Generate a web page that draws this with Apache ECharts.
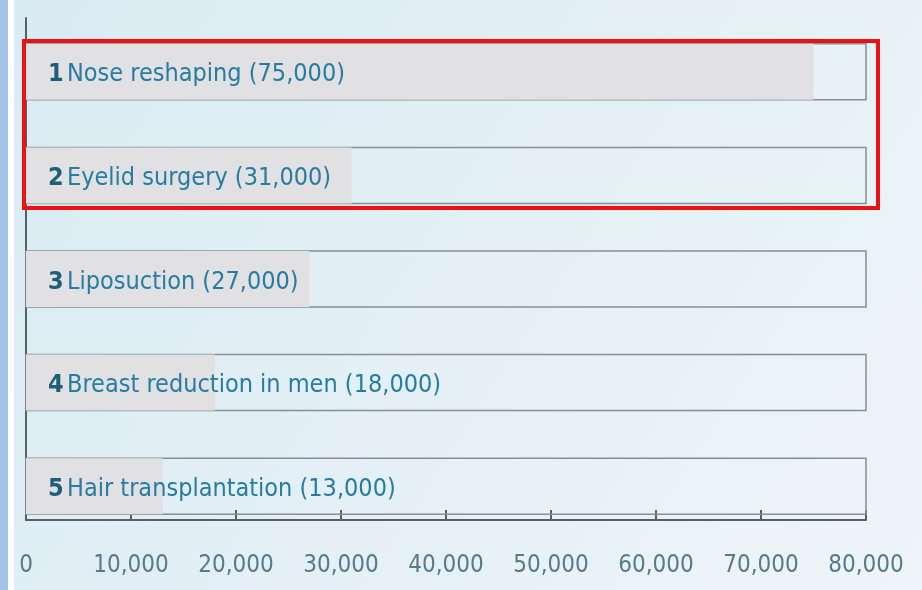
<!DOCTYPE html>
<html>
<head>
<meta charset="utf-8">
<script src="https://cdn.jsdelivr.net/npm/echarts@6/dist/echarts.min.js"></script>
<style>
  html, body { margin: 0; padding: 0; background: #fff; }
  #main { width: 922px; height: 590px; }
</style>
</head>
<body>
<div id="main"></div>
<script>
    // procedures, ranked
    var ranks = ['1', '2', '3', '4', '5'];
    var procedures = ['Nose reshaping', 'Eyelid surgery', 'Liposuction', 'Breast reduction in men', 'Hair transplantation'];
    var counts = [75000, 31000, 27000, 18000, 13000];
    var xTicks = [0, 10000, 20000, 30000, 40000, 50000, 60000, 70000, 80000];

    var FONT = '"Liberation Sans Narrow", "DejaVu Sans Condensed", sans-serif';

    var chart = echarts.init(document.getElementById('main'));
    window.addEventListener('resize', function () {
        chart.resize();
    });

    chart.setOption({
        animation: false,
        backgroundColor: {
            type: 'linear', x: 0, y: 0, x2: 1, y2: 1,
            colorStops: [{offset: 0, color: '#d9ebf3'}, {offset: 0.6, color: '#e6f1f6'}, {offset: 1, color: '#eef5f8'}]
        },
        graphic: [
            {type: 'rect', shape: {x: 0, y: 0, width: 8, height: 590}, style: {fill: '#a2c2e6'}, z: 0},
            {type: 'rect', shape: {x: 8, y: 0, width: 6, height: 590}, style: {fill: '#ffffff'}, z: 0},
            {type: 'rect', shape: {x: 24, y: 41, width: 854, height: 167}, style: {fill: 'none', stroke: '#ee1111', lineWidth: 4}, z: 100}
        ],
        grid: [
            // bars
            {left: 26, right: 56, top: 20, bottom: 52},
            // axes
            {left: 26, right: 56, top: 18, bottom: 70}
        ],
        xAxis: [
            {gridIndex: 0, type: 'value', min: 0, max: 80000, show: false},
            {
                gridIndex: 1, type: 'value', min: 0, max: 80000, interval: 10000,
                axisLine: {show: true, lineStyle: {color: '#55606a', width: 2}},
                axisTick: {show: true, inside: true, length: 10, lineStyle: {color: '#55606a', width: 2}},
                splitLine: {show: false},
                axisLabel: {
                    margin: 34, fontFamily: FONT, fontSize: 24, color: '#587a8a',
                    formatter: function (v) {
                        return xTicks.indexOf(v) >= 0 ? v.toLocaleString('en-US') : '';
                    }
                }
            }
        ],
        yAxis: [
            {gridIndex: 0, type: 'category', inverse: true, data: procedures, show: false},
            {
                gridIndex: 1, type: 'category', data: [''],
                axisLine: {show: true, lineStyle: {color: '#55606a', width: 2}},
                axisTick: {show: false}, axisLabel: {show: false}
            }
        ],
        series: [{
            type: 'bar',
            xAxisIndex: 0, yAxisIndex: 0,
            barWidth: 56,
            data: counts,
            itemStyle: {color: '#e1e1e3'},
            showBackground: true,
            backgroundStyle: {color: 'rgba(0,0,0,0)', borderColor: '#858f96', borderWidth: 1.5},
            label: {
                show: true,
                position: 'insideLeft',
                distance: 22,
                offset: [0, 3],
                formatter: function (p) {
                    return '{n|' + ranks[p.dataIndex] + '} {t|' + procedures[p.dataIndex] +
                        ' (' + counts[p.dataIndex].toLocaleString('en-US') + ')}';
                },
                rich: {
                    n: {fontFamily: FONT, fontSize: 25, fontWeight: 'bold', color: '#1c5f7a'},
                    t: {fontFamily: FONT, fontSize: 25, color: '#267ca2'}
                }
            }
        }]
    });
</script>
</body>
</html>
